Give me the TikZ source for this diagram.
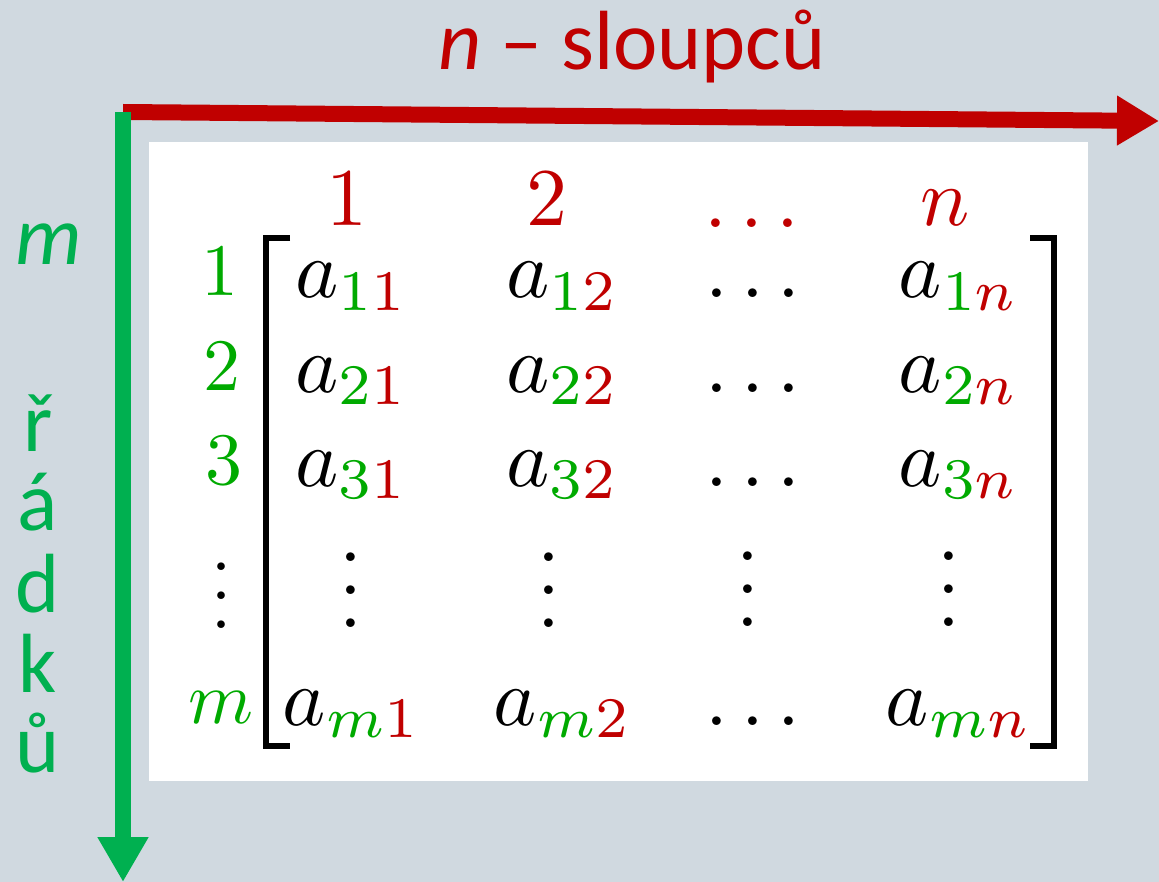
\documentclass[tikz,border=0pt]{standalone}
\usepackage{fontspec}
\usepackage{graphicx}
\newfontfamily\calib{Carlito}
\usetikzlibrary{arrows.meta}
\definecolor{bg}{HTML}{D0D9E0}
\definecolor{ared}{HTML}{C00000}
\definecolor{agreen}{HTML}{00B050}
\definecolor{mgreen}{RGB}{0,170,0}
\definecolor{mred}{HTML}{C00000}
\newcommand\gc[1]{\textcolor{mgreen}{#1}}
\newcommand\rc[1]{\textcolor{mred}{#1}}
\newcommand\mtxL[1]{\fontsize{10}{12}\selectfont\scalebox{8.2}{$#1$}}
\newcommand\mtxS[1]{\fontsize{10}{12}\selectfont\scalebox{7.4}{$#1$}}
\newcommand\mtxV[1]{\fontsize{10}{12}\selectfont\smash{\scalebox{#1}{$\vdots$}}}
\tikzset{
  lbl/.style={inner sep=0pt, anchor=base, font=\calib\fontsize{84}{100}\selectfont},
  ent/.style={inner sep=0pt, anchor=base},
  hdr/.style={inner sep=0pt, anchor=base, text=mred},
  rowlbl/.style={inner sep=0pt, anchor=base, text=mgreen},
  brk/.style={line width=6pt, black, line join=miter},
  redarrow/.style={line width=16pt, ared, -{Triangle[length=42pt,width=47pt]}},
  greenarrow/.style={line width=16pt, agreen, -{Triangle[length=45pt,width=48pt]}}
}
\begin{document}
\begin{tikzpicture}[x=1pt,y=-1pt]
\useasboundingbox (0,0) rectangle (1159,882);
\fill[bg] (0,0) rectangle (1159,882);
\fill[white] (149,142) rectangle (1088,781);

% axes
\coordinate (rs) at (123,112);
\coordinate (rt) at (1159,121);
\coordinate (gs) at (123,112);
\coordinate (gt) at (123,882);
\draw[redarrow] (rs) -- (rt);
\draw[greenarrow] (gs) -- (gt);

% titles
\node[lbl, text=ared] (title) at (632,70) {{\itshape n} – sloupců};
\node[lbl, text=agreen] (mlab) at (49,265) {\itshape m};
\node[lbl, text=agreen] (v1) at (38,451) {ř};
\node[lbl, text=agreen] (v2) at (38,530) {á};
\node[lbl, text=agreen] (v3) at (38,612) {d};
\node[lbl, text=agreen] (v4) at (38,692) {k};
\node[lbl, text=agreen] (v5) at (38,772) {ů};

% column headers
\node[hdr] (h1) at (347,226) {\mtxL{1}};
\node[hdr] (h2) at (547,226) {\mtxL{2}};
\node[hdr] (h3) at (752,228) {\mtxL{\ldots}};
\node[hdr] (h4) at (945,226) {\mtxL{n}};

% row labels
\node[rowlbl] (r1) at (220,296) {\mtxS{1}};
\node[rowlbl] (r2) at (222,391) {\mtxS{2}};
\node[rowlbl] (r3) at (224,484) {\mtxS{3}};
\node[rowlbl, text=black] (r4) at (222,628) {\mtxV{7.2}};
\node[rowlbl] (r5) at (221,723) {\mtxS{m}};

% brackets
\draw[brk] (290,238) -- (266,238) -- (266,746) -- (290,746);
\draw[brk] (1030,238) -- (1054,238) -- (1054,746) -- (1030,746);

% entries
\node[ent] (a11) at (352,298) {\mtxL{a_{\gc{1}\rc{1}}}};
\node[ent] (a12) at (563,298) {\mtxL{a_{\gc{1}\rc{2}}}};
\node[ent] (a13) at (753,298) {\mtxL{\ldots}};
\node[ent] (a14) at (959,298) {\mtxL{a_{\gc{1}\rc{n}}}};

\node[ent] (a21) at (352,392) {\mtxL{a_{\gc{2}\rc{1}}}};
\node[ent] (a22) at (563,392) {\mtxL{a_{\gc{2}\rc{2}}}};
\node[ent] (a23) at (753,392) {\mtxL{\ldots}};
\node[ent] (a24) at (959,392) {\mtxL{a_{\gc{2}\rc{n}}}};

\node[ent] (a31) at (352,486) {\mtxL{a_{\gc{3}\rc{1}}}};
\node[ent] (a32) at (563,486) {\mtxL{a_{\gc{3}\rc{2}}}};
\node[ent] (a33) at (753,486) {\mtxL{\ldots}};
\node[ent] (a34) at (959,486) {\mtxL{a_{\gc{3}\rc{n}}}};

\node[ent] (a41) at (351,627) {\mtxV{8.2}};
\node[ent] (a42) at (549,627) {\mtxV{8.2}};
\node[ent] (a43) at (748,626) {\mtxV{8.2}};
\node[ent] (a44) at (949,626) {\mtxV{8.2}};

\node[ent] (a51) at (352,725) {\mtxL{a_{\gc{m}\rc{1}}}};
\node[ent] (a52) at (563,725) {\mtxL{a_{\gc{m}\rc{2}}}};
\node[ent] (a53) at (753,725) {\mtxL{\ldots}};
\node[ent] (a54) at (959,725) {\mtxL{a_{\gc{m}\rc{n}}}};
\end{tikzpicture}
\end{document}
